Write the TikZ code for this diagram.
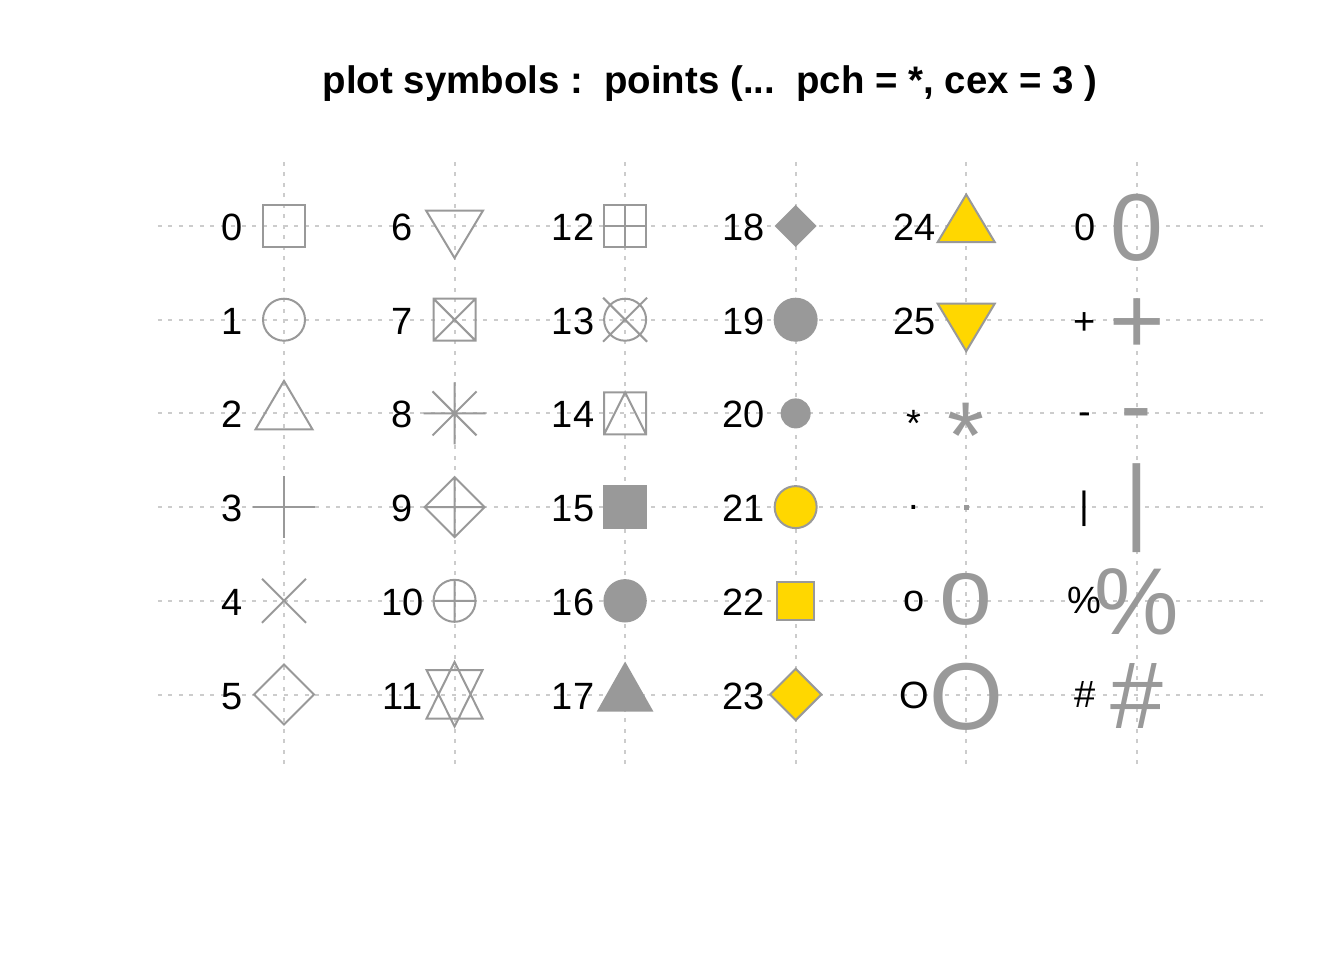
\documentclass[tikz,border=0pt]{standalone}
\usepackage{fontspec}
\setmainfont{Liberation Sans}
\usepackage{xcolor}

\definecolor{symgray}{HTML}{999999}
\definecolor{symgold}{HTML}{FFD700}
\definecolor{gridgray}{HTML}{CCCCCC}

\begin{document}
\begin{tikzpicture}[
    x=0.5pt, y=-0.5pt,
    sym/.style={draw=symgray, line width=1pt},
    symfill/.style={fill=symgray},
    bgsym/.style={draw=symgray, fill=symgold, line width=1pt},
    lbl/.style={anchor=base, inner sep=0pt, font=\fontsize{19}{19}\selectfont},
    bigchar/.style={anchor=base, inner sep=0pt, text=symgray, font=\fontsize{47.5}{47.5}\selectfont},
    gridline/.style={draw=gridgray, line width=1pt, dash pattern=on 1.9pt off 3.35pt},
    % open symbols
    pch0/.pic={\draw[sym] (-21,-21) rectangle (21,21);},
    pch1/.pic={\draw[sym] (0,0) circle [radius=21];},
    pch2/.pic={\draw[sym] (0,-32.5) -- (28.5,16) -- (-28.5,16) -- cycle;},
    pch3/.pic={\draw[sym] (-31,0) -- (31,0) (0,-31) -- (0,31);},
    pch4/.pic={\draw[sym] (-22,-22) -- (22,22) (-22,22) -- (22,-22);},
    pch5/.pic={\draw[sym] (-30,0) -- (0,-30) -- (30,0) -- (0,30) -- cycle;},
    pch6/.pic={\draw[sym] (0,32) -- (28.5,-15.5) -- (-28.5,-15.5) -- cycle;},
    pch7/.pic={\draw[sym] (-21,-21) rectangle (21,21) (-21,-21) -- (21,21) (-21,21) -- (21,-21);},
    pch8/.pic={\draw[sym] (-31,0) -- (31,0) (0,-31) -- (0,31) (-22,-22) -- (22,22) (-22,22) -- (22,-22);},
    pch9/.pic={\draw[sym] (-30,0) -- (0,-30) -- (30,0) -- (0,30) -- cycle (-30,0) -- (30,0) (0,-30) -- (0,30);},
    pch10/.pic={\draw[sym] (0,0) circle [radius=21] (-21,0) -- (21,0) (0,-21) -- (0,21);},
    pch11/.pic={\draw[sym] (0,-32.5) -- (28,24) -- (-28,24) -- cycle (0,32) -- (28,-24.5) -- (-28,-24.5) -- cycle;},
    pch12/.pic={\draw[sym] (-21,-21) rectangle (21,21) (-21,0) -- (21,0) (0,-21) -- (0,21);},
    pch13/.pic={\draw[sym] (0,0) circle [radius=21] (-22,-22) -- (22,22) (-22,22) -- (22,-22);},
    pch14/.pic={\draw[sym] (-21,-21) rectangle (21,21) (-21,21) -- (0,-21) -- (21,21);},
    % solid symbols
    pch15/.pic={\fill[symfill] (-21.7,-21.7) rectangle (21.7,21.7);},
    pch16/.pic={\fill[symfill] (0,0) circle [radius=21.7];},
    pch17/.pic={\fill[symfill] (0,-33) -- (28.3,17) -- (-28.3,17) -- cycle;},
    pch18/.pic={\fill[symfill] (-21,0) -- (0,-21) -- (21,0) -- (0,21) -- cycle;},
    pch19/.pic={\draw[sym, fill=symgray] (0,0) circle [radius=21];},
    pch20/.pic={\draw[sym, fill=symgray] (0,0) circle [radius=14];},
    % filled with bg colour
    pch21/.pic={\draw[bgsym] (0,0) circle [radius=21];},
    pch22/.pic={\draw[bgsym] (-18.8,-18.8) rectangle (18.8,18.8);},
    pch23/.pic={\draw[bgsym] (-25.7,0) -- (0,-25.7) -- (25.7,0) -- (0,25.7) -- cycle;},
    pch24/.pic={\draw[bgsym] (0,-31.5) -- (28.5,16) -- (-28.5,16) -- cycle;},
    pch25/.pic={\draw[bgsym] (0,31.5) -- (28.5,-16) -- (-28.5,-16) -- cycle;}
]
    \useasboundingbox (0,0) rectangle (1344,960);

    % Title
    \node[anchor=base, inner sep=0pt, font=\bfseries\fontsize{19.2}{19.2}\selectfont] (title)
        at (710,93) {plot symbols :\ \ points (...\ \ pch = *, cex = 3 )};

    % Cell centres p<col><row>
    \foreach \i in {0,...,5}
        \foreach \j in {0,...,5}
            \coordinate (p\i\j) at ({284+170.55*\i},{226+93.7*\j});

    % Dotted grid
    \foreach \i in {0,...,5}
        \draw[gridline] ({284+170.55*\i},764) -- ({284+170.55*\i},157);
    \foreach \j in {0,...,5}
        \draw[gridline] (157.8,{226+93.7*\j}) -- (1263,{226+93.7*\j});

    % Numbered labels 0..25
    \foreach \n in {0,...,25} {
        \pgfmathtruncatemacro{\i}{\n/6}
        \pgfmathtruncatemacro{\j}{\n-6*\i}
        \path (p\i\j) ++(-52,14.5) node[lbl] (lab\n) {\n};
    }

    % Symbols 0..25
    \pic at (p00) {pch0};
    \pic at (p01) {pch1};
    \pic at (p02) {pch2};
    \pic at (p03) {pch3};
    \pic at (p04) {pch4};
    \pic at (p05) {pch5};
    \pic at (p10) {pch6};
    \pic at (p11) {pch7};
    \pic at (p12) {pch8};
    \pic at (p13) {pch9};
    \pic at (p14) {pch10};
    \pic at (p15) {pch11};
    \pic at (p20) {pch12};
    \pic at (p21) {pch13};
    \pic at (p22) {pch14};
    \pic at (p23) {pch15};
    \pic at (p24) {pch16};
    \pic at (p25) {pch17};
    \pic at (p30) {pch18};
    \pic at (p31) {pch19};
    \pic at (p32) {pch20};
    \pic at (p33) {pch21};
    \pic at (p34) {pch22};
    \pic at (p35) {pch23};
    \pic at (p40) {pch24};
    \pic at (p41) {pch25};

    % Character symbols, column 5
    \path (p42) ++(-52,22.6) node[lbl] (labast) {*};
    \path (p42) ++(0,54.7)   node[bigchar] (symast) {*};
    \path (p43) ++(-52,2.7)  node[lbl] (labdot) {.};
    \fill[symgray] ([shift={(-2.4,-2.4)}]p43) rectangle ([shift={(2.4,2.4)}]p43);
    \path (p44) ++(-52,11)   node[lbl] (labo) {o};
    \path (p44) ++(0,23.3)   node[bigchar] (symo) {o};
    \path (p45) ++(-52,14)   node[lbl] (labO) {O};
    \path (p45) ++(0,34.7)   node[bigchar] (symO) {O};

    % Character symbols, column 6
    \path (p50) ++(-52,14)   node[lbl] (labzero) {0};
    \path (p50) ++(0,34.6)   node[bigchar] (symzero) {0};
    \path (p51) ++(-52,14.3) node[lbl] (labplus) {+};
    \path (p51) ++(0,34)     node[bigchar] (symplus) {+};
    \path (p52) ++(-52,10.7) node[lbl] (labminus) {-};
    \path (p52) ++(0,24.5)   node[bigchar] (symminus) {-};
    \path (p53) ++(-52,11)   node[lbl] (labbar) {|};
    \path (p53) ++(0,25.7)   node[bigchar] (symbar) {|};
    \path (p54) ++(-52,12.7) node[lbl] (labpct) {\%};
    \path (p54) ++(0,34)     node[bigchar] (sympct) {\%};
    \path (p55) ++(-52,13.3) node[lbl] (labhash) {\#};
    \path (p55) ++(0,34.3)   node[bigchar] (symhash) {\#};
\end{tikzpicture}
\end{document}
